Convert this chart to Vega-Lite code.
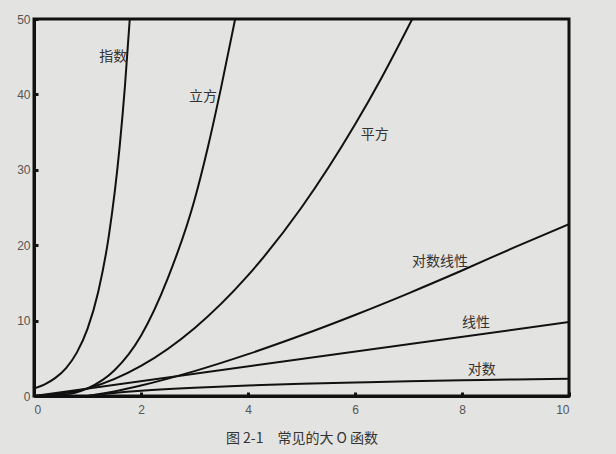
{
  "$schema": "https://vega.github.io/schema/vega-lite/v6.json",
  "width": 535,
  "height": 377,
  "autosize": {"type": "none"},
  "padding": {"left": 34, "top": 19, "right": 47, "bottom": 58},
  "background": "#e3e3e1",
  "config": {
    "view": {"stroke": "#111", "strokeWidth": 3},
    "axis": {"grid": false, "domainColor": "#111", "domainWidth": 3, "tickColor": "#111", "tickWidth": 3, "tickSize": -4, "labelFont": "Liberation Sans", "labelFontSize": 12, "labelColor": "#555", "labelPadding": 8}
  },
  "datasets": {
    "curves": [
      {"f": "exp", "x": 0, "y": 1}, {"f": "exp", "x": 0.2, "y": 1.55}, {"f": "exp", "x": 0.4, "y": 2.4}, {"f": "exp", "x": 0.6, "y": 3.71}, {"f": "exp", "x": 0.8, "y": 5.75}, {"f": "exp", "x": 1.0, "y": 8.9}, {"f": "exp", "x": 1.2, "y": 13.8}, {"f": "exp", "x": 1.4, "y": 21.3}, {"f": "exp", "x": 1.6, "y": 33.0}, {"f": "exp", "x": 1.7, "y": 41.1}, {"f": "exp", "x": 1.79, "y": 50},
      {"f": "cube", "x": 0, "y": 0}, {"f": "cube", "x": 0.5, "y": 0.125}, {"f": "cube", "x": 1, "y": 1}, {"f": "cube", "x": 1.5, "y": 3.375}, {"f": "cube", "x": 2, "y": 8}, {"f": "cube", "x": 2.5, "y": 15.6}, {"f": "cube", "x": 3, "y": 26}, {"f": "cube", "x": 3.25, "y": 33}, {"f": "cube", "x": 3.5, "y": 41}, {"f": "cube", "x": 3.76, "y": 50},
      {"f": "sq", "x": 0, "y": 0}, {"f": "sq", "x": 1, "y": 1}, {"f": "sq", "x": 2, "y": 4}, {"f": "sq", "x": 3, "y": 9}, {"f": "sq", "x": 4, "y": 16}, {"f": "sq", "x": 5, "y": 25}, {"f": "sq", "x": 6, "y": 36}, {"f": "sq", "x": 6.5, "y": 42.25}, {"f": "sq", "x": 7.07, "y": 50},
      {"f": "nlogn", "x": 1, "y": 0}, {"f": "nlogn", "x": 1.2, "y": 0.22}, {"f": "nlogn", "x": 1.5, "y": 0.61}, {"f": "nlogn", "x": 2, "y": 1.39}, {"f": "nlogn", "x": 3, "y": 3.3}, {"f": "nlogn", "x": 4, "y": 5.55}, {"f": "nlogn", "x": 5, "y": 8.05}, {"f": "nlogn", "x": 6, "y": 10.75}, {"f": "nlogn", "x": 7, "y": 13.62}, {"f": "nlogn", "x": 8, "y": 16.64}, {"f": "nlogn", "x": 9, "y": 19.78}, {"f": "nlogn", "x": 10, "y": 22.8},
      {"f": "lin", "x": 0, "y": 0}, {"f": "lin", "x": 10, "y": 9.8},
      {"f": "log", "x": 1, "y": 0}, {"f": "log", "x": 1.2, "y": 0.18}, {"f": "log", "x": 1.5, "y": 0.41}, {"f": "log", "x": 2, "y": 0.69}, {"f": "log", "x": 3, "y": 1.1}, {"f": "log", "x": 4, "y": 1.39}, {"f": "log", "x": 5, "y": 1.61}, {"f": "log", "x": 6, "y": 1.79}, {"f": "log", "x": 7, "y": 1.95}, {"f": "log", "x": 8, "y": 2.08}, {"f": "log", "x": 9, "y": 2.2}, {"f": "log", "x": 10, "y": 2.3}
    ],
    "labels": [
      {"t": "指数", "x": 1.48, "y": 44.9},
      {"t": "立方", "x": 3.16, "y": 39.7},
      {"t": "平方", "x": 6.37, "y": 34.6},
      {"t": "对数线性", "x": 7.59, "y": 17.8},
      {"t": "线性", "x": 8.26, "y": 9.7},
      {"t": "对数", "x": 8.37, "y": 3.4}
    ]
  },
  "layer": [
    {
      "data": {"name": "curves"},
      "mark": {"type": "line", "color": "#111", "strokeWidth": 2, "clip": true, "interpolate": "monotone"},
      "encoding": {
        "x": {"field": "x", "type": "quantitative", "scale": {"domain": [0, 10], "nice": false}, "axis": {"values": [0, 2, 4, 6, 8, 10], "labelPadding": 12, "title": "图 2-1\u3000常见的大 O 函数", "titleFont": "Noto Sans CJK SC", "titleFontSize": 14, "titleFontWeight": "normal", "titleColor": "#333", "titlePadding": 16}},
        "y": {"field": "y", "type": "quantitative", "scale": {"domain": [0, 50], "nice": false}, "axis": {"values": [0, 10, 20, 30, 40, 50], "title": null}},
        "detail": {"field": "f"}
      }
    },
    {
      "data": {"name": "labels"},
      "mark": {"type": "text", "font": "Noto Sans CJK SC", "fontSize": 14, "color": "#333"},
      "encoding": {
        "x": {"field": "x", "type": "quantitative"},
        "y": {"field": "y", "type": "quantitative"},
        "text": {"field": "t"}
      }
    }
  ]
}
